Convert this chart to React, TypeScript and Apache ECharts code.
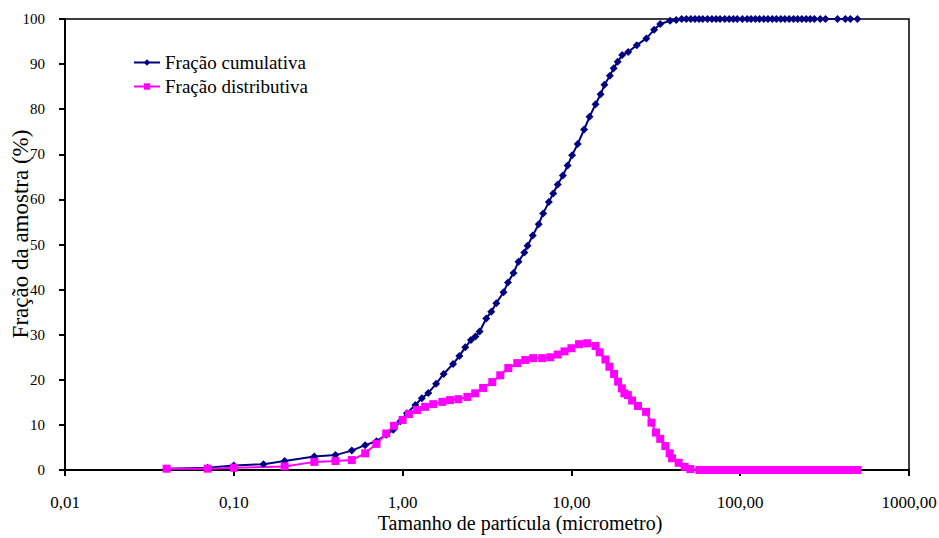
import React, { useEffect, useRef } from "react";
import * as echarts from "echarts";

// Fração cumulativa (navy, diamonds)
const cumSizes = [
  0.04, 0.07, 0.1, 0.15, 0.2, 0.3, 0.4, 0.5, 0.6, 0.7, 0.8, 0.88, 0.97, 1.06, 1.19, 1.3, 1.42,
  1.58, 1.75, 1.99, 2.17, 2.35, 2.54, 2.7, 2.86, 3.13, 3.35, 3.59, 3.96, 4.21, 4.54, 4.86,
  5.26, 5.5, 5.9, 6.4, 6.8, 7.35, 7.8, 8.3, 8.9, 9.5, 10.1, 10.9, 11.9, 12.8, 13.9, 14.9,
  15.7, 16.9, 17.8, 18.8, 20, 21.7, 24.4, 27.8, 30.9, 33.6, 38.4, 41.8,
  45, 48, 51, 54, 57, 60, 64, 68, 72, 76, 81, 86, 91, 96, 103, 110, 116, 123, 130, 138,
  146, 155, 164, 174, 184, 195, 207, 219, 232, 246, 260, 275, 298, 320, 377, 420, 450, 495,
];
const cumValues = [
  0.3, 0.5, 1.0, 1.3, 2.0, 3.0, 3.3, 4.3, 5.5, 6.4, 7.8, 8.9, 10.8, 12.6, 14.4, 15.9, 17.1,
  19.1, 21.3, 23.5, 25.3, 27.2, 28.8, 29.6, 30.7, 33.6, 35.1, 37.0, 39.4, 41.6, 43.7, 46.2,
  48.2, 49.7, 52.0, 54.5, 56.9, 59.4, 61.3, 63.3, 65.3, 67.5, 69.8, 72.3, 75.5, 78.3, 81.1, 83.3,
  85.4, 87.4, 89.1, 90.5, 92.0, 92.7, 94.2, 95.7, 97.6, 98.9, 99.6, 99.8,
  100, 100, 100, 100, 100, 100, 100, 100, 100, 100, 100, 100, 100, 100, 100, 100, 100, 100, 100, 100,
  100, 100, 100, 100, 100, 100, 100, 100, 100, 100, 100, 100, 100, 100, 100, 100, 100, 100,
];

// Fração distributiva (magenta, squares)
const distSizes = [
  0.04, 0.07, 0.1, 0.2, 0.3, 0.4, 0.5, 0.6, 0.7, 0.8, 0.89, 1.0, 1.09, 1.22, 1.36, 1.52, 1.72,
  1.91, 2.14, 2.42, 2.69, 3.0, 3.4, 3.79, 4.23, 4.78, 5.33, 5.94, 6.72, 7.5, 8.3, 9.1, 10.0,
  11.1, 12.4, 13.9, 14.7, 15.9, 16.8, 17.9, 18.9, 19.9, 20.6, 21.6, 22.9, 24.8, 27.7, 29.8,
  31.7, 33.6, 36.0, 38.2, 39.5, 43.2, 46.9, 50.7, 57.3,
  60, 64, 68, 72, 76, 81, 86, 91, 96, 103, 110, 116, 123, 130, 138, 146, 155, 164, 174, 184,
  195, 207, 219, 232, 246, 260, 275, 292, 310, 330, 350, 372, 395, 420, 445, 495,
];
const distValues = [
  0.3, 0.3, 0.5, 0.8, 1.8, 2.0, 2.2, 3.7, 5.8, 8.1, 9.8, 11.1, 12.4, 13.3, 14.0, 14.6, 15.1,
  15.5, 15.7, 16.2, 17.0, 18.2, 19.5, 21.0, 22.6, 23.7, 24.4, 24.8, 24.8, 25.0, 25.6, 26.3, 27.0,
  27.9, 28.1, 27.5, 26.1, 24.5, 22.9, 21.3, 19.6, 18.1, 17.0, 16.6, 15.4, 14.2, 12.9, 10.5,
  8.3, 6.9, 5.3, 3.7, 2.6, 1.6, 0.7, 0.2, 0,
  0, 0, 0, 0, 0, 0, 0, 0, 0, 0, 0, 0, 0, 0, 0, 0, 0, 0, 0, 0,
  0, 0, 0, 0, 0, 0, 0, 0, 0, 0, 0, 0, 0, 0, 0, 0,
];

const seriesNames = ["Fração cumulativa", "Fração distributiva"];
const xTitle = "Tamanho de partícula (micrometro)";
const yTitle = "Fração da amostra (%)";

const FONT = "Liberation Serif";

export default function App() {
  const ref = useRef<HTMLDivElement>(null);

  useEffect(() => {
    document.body.style.margin = "0";
    if (!ref.current) return;
    const chart = echarts.init(ref.current, undefined, { renderer: "svg" });
    const cumData = cumSizes.map((s, i) => [s, cumValues[i]]);
    const distData = distSizes.map((s, i) => [s, distValues[i]]);
    chart.setOption({
      animation: false,
      backgroundColor: "#ffffff",
      textStyle: { fontFamily: FONT },
      grid: {
        left: 65,
        right: 30,
        top: 19,
        bottom: 68,
        containLabel: false,
        outerBoundsMode: "none",
        show: true,
        borderColor: "#000",
        borderWidth: 1.5,
        backgroundColor: "transparent",
      },
      legend: {
        orient: "vertical",
        left: 128,
        top: 48,
        itemWidth: 26,
        itemHeight: 8,
        itemGap: 5,
        textStyle: { fontFamily: FONT, fontSize: 19, color: "#000" },
        data: seriesNames,
      },
      graphic: [
        {
          type: "text",
          x: 520,
          y: 523,
          silent: true,
          style: {
            text: xTitle,
            fontFamily: FONT,
            fontSize: 20,
            fill: "#000",
            textAlign: "center",
            textVerticalAlign: "middle",
          },
        },
        {
          type: "text",
          x: 20,
          y: 234,
          rotation: Math.PI / 2,
          silent: true,
          style: {
            text: yTitle,
            fontFamily: FONT,
            fontSize: 23,
            fill: "#000",
            textAlign: "center",
            textVerticalAlign: "middle",
          },
        },
      ],
      xAxis: {
        type: "log",
        logBase: 10,
        min: 0.01,
        max: 1000,
        axisLine: { show: true, lineStyle: { color: "#000", width: 2 } },
        axisTick: { show: true, inside: false, length: 6, lineStyle: { color: "#000", width: 2 } },
        minorTick: { show: false },
        splitLine: { show: false },
        axisLabel: {
          fontFamily: FONT,
          fontSize: 17,
          color: "#000",
          margin: 24,
          formatter: (v: number) => v.toFixed(2).replace(".", ","),
        },
      },
      yAxis: {
        type: "value",
        min: 0,
        max: 100,
        interval: 10,
        axisLine: { show: true, lineStyle: { color: "#000", width: 2 } },
        axisTick: { show: true, inside: false, length: 6, lineStyle: { color: "#000", width: 2 } },
        splitLine: { show: false },
        axisLabel: { fontFamily: FONT, fontSize: 15, color: "#000", margin: 20 },
      },
      series: [
        {
          name: seriesNames[0],
          type: "line",
          data: cumData,
          symbol: "diamond",
          symbolSize: 8,
          showAllSymbol: true,
          clip: false,
          color: "#000080",
          lineStyle: { color: "#000080", width: 2 },
          itemStyle: { color: "#000080" },
        },
        {
          name: seriesNames[1],
          type: "line",
          data: distData,
          symbol: "rect",
          symbolSize: 8,
          showAllSymbol: true,
          clip: false,
          color: "#ff00ff",
          lineStyle: { color: "#ff00ff", width: 2 },
          itemStyle: { color: "#ff00ff" },
        },
      ],
    });
    return () => chart.dispose();
  }, []);

  return <div ref={ref} style={{ width: 939, height: 538 }} />;
}
